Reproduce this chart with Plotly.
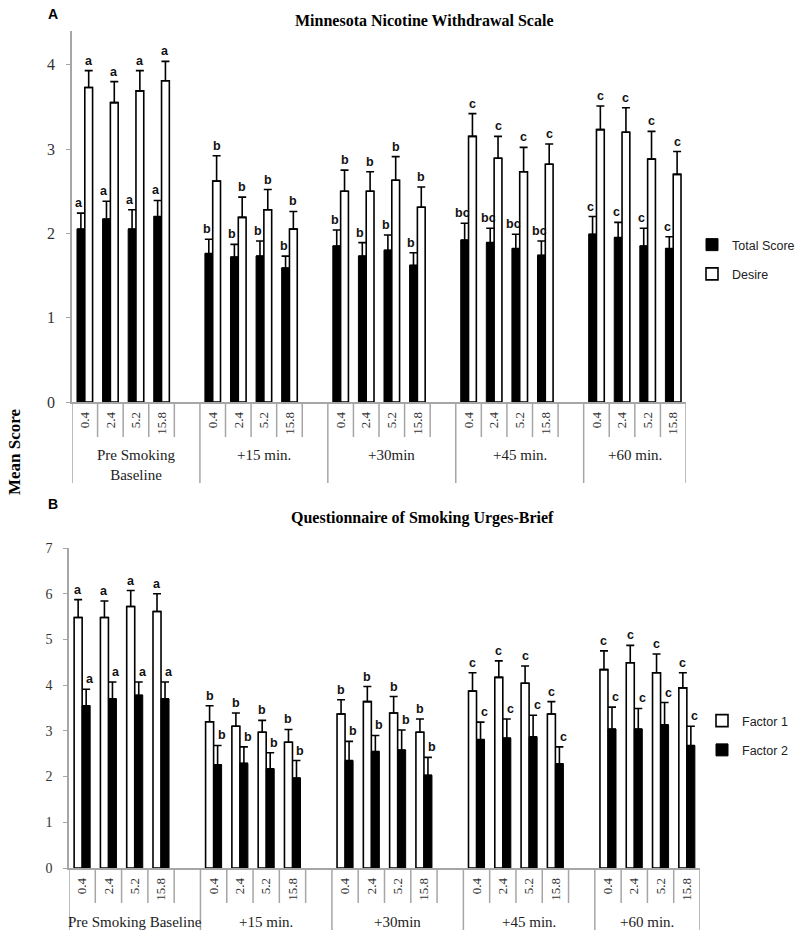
import plotly.graph_objects as go

W, H = 800, 940

# ---------------- data ----------------
doses = ["0.4", "2.4", "5.2", "15.8"]
groups_a = ["Pre Smoking<br>Baseline", "+15 min.", "+30min", "+45 min.", "+60 min."]
groups_b = ["Pre Smoking Baseline", "+15 min.", "+30min", "+45 min.", "+60 min."]

# Panel A: Minnesota Nicotine Withdrawal Scale
a_total = [2.05, 2.17, 2.05, 2.20, 1.76, 1.72, 1.73, 1.59, 1.85, 1.73, 1.80, 1.62,
           1.92, 1.89, 1.82, 1.74, 1.99, 1.95, 1.85, 1.82]
a_total_err = [0.19, 0.21, 0.23, 0.19, 0.17, 0.15, 0.18, 0.14, 0.19, 0.16, 0.18, 0.15,
               0.20, 0.17, 0.17, 0.17, 0.21, 0.18, 0.21, 0.14]
a_desire = [3.73, 3.55, 3.69, 3.81, 2.62, 2.19, 2.28, 2.05, 2.50, 2.50, 2.63, 2.31,
            3.15, 2.89, 2.73, 2.82, 3.23, 3.20, 2.88, 2.70]
a_desire_err = [0.20, 0.25, 0.24, 0.23, 0.30, 0.24, 0.24, 0.21, 0.25, 0.23, 0.28, 0.24,
                0.27, 0.26, 0.29, 0.24, 0.28, 0.29, 0.33, 0.27]
a_total_letters = ["a"] * 4 + ["b"] * 8 + ["bc"] * 4 + ["c"] * 4
a_desire_letters = ["a"] * 4 + ["b"] * 8 + ["c"] * 8

# Panel B: Questionnaire of Smoking Urges-Brief
b_f1 = [5.48, 5.48, 5.72, 5.61, 3.20, 3.10, 2.97, 2.75, 3.37, 3.64, 3.39, 2.97,
        3.87, 4.17, 4.04, 3.37, 4.34, 4.49, 4.27, 3.94]
b_f1_err = [0.39, 0.36, 0.35, 0.39, 0.35, 0.29, 0.26, 0.28, 0.31, 0.33, 0.36, 0.29,
            0.40, 0.36, 0.38, 0.27, 0.41, 0.38, 0.41, 0.33]
b_f2 = [3.55, 3.70, 3.78, 3.70, 2.26, 2.29, 2.17, 1.97, 2.35, 2.55, 2.58, 2.03,
        2.81, 2.84, 2.87, 2.28, 3.04, 3.04, 3.13, 2.68]
b_f2_err = [0.36, 0.37, 0.29, 0.37, 0.42, 0.36, 0.35, 0.38, 0.42, 0.35, 0.44, 0.39,
            0.38, 0.42, 0.47, 0.37, 0.48, 0.45, 0.49, 0.42]
b_f1_letters = ["a"] * 4 + ["b"] * 8 + ["c"] * 8
b_f2_letters = ["a"] * 4 + ["b"] * 8 + ["c"] * 8

# ---------------- layout helpers ----------------
n_groups = len(groups_a)
n_doses = len(doses)
slot_per_group = n_doses + 1          # one empty spacer slot after each group
slots = [g * slot_per_group + d for g in range(n_groups) for d in range(n_doses)]
x_lo, x_hi = -0.5, max(slots) + 0.5
BARGAP = 0.39
bw = (1 - BARGAP) / 2

SERIF = "Liberation Serif"
SANS = "Liberation Sans"
GRAY = "#a6a6a6"


def px_y(p):
    return 1 - p / H


fig = go.Figure()


def err(arr):
    return dict(type="data", array=arr, arrayminus=[0] * len(arr), symmetric=False,
                color="black", thickness=1.6, width=4)


# Panel A
fig.add_trace(go.Bar(name="Total Score", x=slots, y=a_total, error_y=err(a_total_err),
                     marker=dict(color="black", line=dict(color="black", width=1)),
                     xaxis="x", yaxis="y", legend="legend", legendgroup="t"))
fig.add_trace(go.Bar(name="Desire", x=slots, y=a_desire, error_y=err(a_desire_err),
                     marker=dict(color="white", line=dict(color="black", width=1.6)),
                     xaxis="x", yaxis="y", legend="legend", legendgroup="d"))
# Panel B
fig.add_trace(go.Bar(name="Factor 1", x=slots, y=b_f1, error_y=err(b_f1_err),
                     marker=dict(color="white", line=dict(color="black", width=1.6)),
                     xaxis="x2", yaxis="y2", legend="legend2", legendgroup="f1"))
fig.add_trace(go.Bar(name="Factor 2", x=slots, y=b_f2, error_y=err(b_f2_err),
                     marker=dict(color="black", line=dict(color="black", width=1)),
                     xaxis="x2", yaxis="y2", legend="legend2", legendgroup="f2"))

annotations = []
shapes = []


def letters(vals, errs, labs, side, xr, yr, xshift):
    for s, v, e, t in zip(slots, vals, errs, labs):
        annotations.append(dict(x=s + side * bw / 2, y=v + e, xref=xr, yref=yr,
                                text="<b>" + t + "</b>",
                                showarrow=False, xanchor="center", yanchor="bottom",
                                yshift=1, xshift=xshift,
                                font=dict(family=SANS, size=12.5, color="#111")))


letters(a_total, a_total_err, a_total_letters, -1, "x", "y", -2)
letters(a_desire, a_desire_err, a_desire_letters, 1, "x", "y", 0)
letters(b_f1, b_f1_err, b_f1_letters, -1, "x2", "y2", 0)
letters(b_f2, b_f2_err, b_f2_letters, 1, "x2", "y2", 4)


def category_boxes(xr, groups, y0px, short_px, long_px, label_px):
    group_edges = set()
    for g in range(n_groups):
        start = g * slot_per_group - 0.5
        end = min(g * slot_per_group + n_doses + 0.5, x_hi)
        group_edges.add(start)
        group_edges.add(end)
        annotations.append(dict(x=(start + end) / 2, y=px_y(label_px), xref=xr, yref="paper",
                                text=groups[g], showarrow=False, xanchor="center",
                                yanchor="top",
                                font=dict(family=SERIF, size=15, color="#222")))
    k = x_lo
    while k <= x_hi + 1e-9:
        is_long = any(abs(k - e) < 1e-9 for e in group_edges)
        shapes.append(dict(type="line", xref=xr, yref="paper", x0=k, x1=k,
                           y0=px_y(y0px), y1=px_y(long_px if is_long else short_px),
                           line=dict(color=GRAY, width=1.5)))
        k += 1


category_boxes("x", groups_a, 402, 437, 483, 445)
category_boxes("x2", groups_b, 868, 903, 930, 912)

# titles and labels
annotations += [
    dict(x=424 / W, y=px_y(20), xref="paper", yref="paper", showarrow=False,
         xanchor="center", yanchor="middle",
         text="<b>Minnesota Nicotine Withdrawal Scale</b>",
         font=dict(family=SERIF, size=16, color="black")),
    dict(x=422 / W, y=px_y(518), xref="paper", yref="paper", showarrow=False,
         xanchor="center", yanchor="middle",
         text="<b>Questionnaire of Smoking Urges-Brief</b>",
         font=dict(family=SERIF, size=16, color="black")),
    dict(x=53 / W, y=px_y(14), xref="paper", yref="paper", showarrow=False,
         xanchor="center", yanchor="middle",
         text="<b>A</b>", font=dict(family=SANS, size=14, color="black")),
    dict(x=53 / W, y=px_y(504), xref="paper", yref="paper", showarrow=False,
         xanchor="center", yanchor="middle",
         text="<b>B</b>", font=dict(family=SANS, size=14, color="black")),
    dict(x=15 / W, y=px_y(452), xref="paper", yref="paper", showarrow=False,
         xanchor="center", yanchor="middle",
         text="<b>Mean Score</b>", textangle=-90,
         font=dict(family=SERIF, size=17, color="black")),
]

xcommon = dict(range=[x_lo, x_hi], tickmode="array", tickvals=slots,
               ticktext=doses * n_groups, tickangle=-90, showgrid=False, zeroline=False,
               showline=True, linecolor=GRAY, linewidth=1.5, ticks="",
               tickfont=dict(family=SERIF, size=13, color="#333"), ticklabelstandoff=3)
ycommon = dict(showgrid=False, zeroline=False, showline=True, linecolor=GRAY, linewidth=1.5,
               ticks="outside", ticklen=4, tickcolor=GRAY, dtick=1)

fig.update_layout(
    width=W, height=H, margin=dict(l=0, r=0, t=0, b=0, autoexpand=False),
    paper_bgcolor="white", plot_bgcolor="white",
    barmode="group", bargap=BARGAP, bargroupgap=0,
    xaxis=dict(domain=[72 / W, 686 / W], anchor="y", **xcommon),
    yaxis=dict(domain=[px_y(402), px_y(31)], range=[0, 4.4], anchor="x",
               tickfont=dict(family=SERIF, size=16, color="#333"), ticklabelstandoff=8, **ycommon),
    xaxis2=dict(domain=[69 / W, 700 / W], anchor="y2", **xcommon),
    yaxis2=dict(domain=[px_y(868), px_y(548)], range=[0, 7], anchor="x2",
                tickfont=dict(family=SERIF, size=14, color="#333"), ticklabelstandoff=8, **ycommon),
    legend=dict(x=692 / W, y=px_y(230), xanchor="left", yanchor="top",
                font=dict(family=SANS, size=12.5, color="#222"), tracegroupgap=10,
                bgcolor="rgba(0,0,0,0)"),
    legend2=dict(x=702 / W, y=px_y(706), xanchor="left", yanchor="top",
                 font=dict(family=SANS, size=12.5, color="#222"), tracegroupgap=10,
                 bgcolor="rgba(0,0,0,0)"),
    annotations=annotations, shapes=shapes, showlegend=True,
)

fig.write_html("out.html", config={"displayModeBar": False},
               post_script="document.body.style.margin='0px';")
